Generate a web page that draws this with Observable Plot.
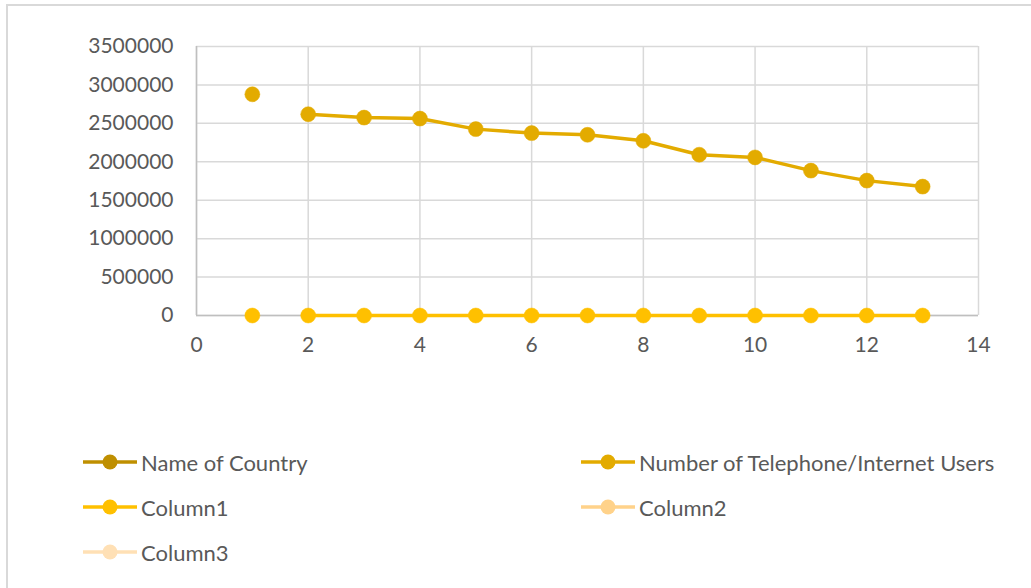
<!DOCTYPE html>
<html>
<head>
<meta charset="utf-8">
<script src="https://cdn.jsdelivr.net/npm/d3@7"></script>
<script src="https://cdn.jsdelivr.net/npm/@observablehq/plot@0.6"></script>
<style>
  html, body { margin: 0; padding: 0; background: #fff; width: 1031px; height: 588px; overflow: hidden; }
  #frame { position: absolute; left: 6px; top: 4px; width: 1100px; height: 700px;
           border-top: 2px solid #d9d9d9; border-left: 2px solid #d9d9d9; }
  #chart { position: absolute; left: 0; top: 0; }
  #legend { position: absolute; left: 0; top: 440px; width: 1031px; font-family: Lato, "Open Sans", sans-serif;
            font-size: 22px; color: #595959; }
  .item { position: absolute; display: flex; align-items: center; height: 30px; white-space: nowrap; }
  .item svg { margin-right: 3px; }
</style>
</head>
<body>
<div id="frame"></div>
<div id="chart"></div>
<div id="legend"></div>
<script>
// ---- data ----
const xValues = [1, 2, 3, 4, 5, 6, 7, 8, 9, 10, 11, 12, 13];
const users = [2878000, 2619000, 2575000, 2562000, 2425000, 2373000, 2351000, 2273000, 2092000, 2057000, 1885000, 1755000, 1677000];
const column1 = [0, 0, 0, 0, 0, 0, 0, 0, 0, 0, 0, 0, 0];
const yTicks = [0, 500000, 1000000, 1500000, 2000000, 2500000, 3000000, 3500000];
const xTicks = [0, 2, 4, 6, 8, 10, 12, 14];
const seriesNames = ["Name of Country", "Number of Telephone/Internet Users", "Column1", "Column2", "Column3"];
const seriesColors = ["#bf8f00", "#e3ab00", "#ffc000", "#ffd28a", "#ffe0b5"];
const firstConnectedX = 2; // the first point is not joined to the rest in the source

const usersData = xValues.map((x, i) => ({x, y: users[i]}));
const col1Data = xValues.map((x, i) => ({x, y: column1[i]}));

const font = 'Lato, "Open Sans", sans-serif';

const chart = Plot.plot({
  width: 1031,
  height: 380,
  marginLeft: 196,
  marginRight: 53,
  marginTop: 46,
  marginBottom: 65,
  style: {fontFamily: font, fontSize: "21px", color: "#595959", background: "transparent", overflow: "visible"},
  x: {domain: [0, 14], ticks: xTicks, tickSize: 0, tickPadding: 22, label: null},
  y: {domain: [0, 3500000], ticks: yTicks, tickSize: 0, tickPadding: 23, label: null, tickFormat: d => String(d)},
  marks: [
    Plot.gridY(yTicks, {stroke: "#d9d9d9", strokeOpacity: 1, strokeWidth: 1.5}),
    Plot.gridX(xTicks, {stroke: "#d9d9d9", strokeOpacity: 1, strokeWidth: 1.5}),
    Plot.ruleX([0], {stroke: "#bfbfbf", strokeWidth: 1.5}),
    Plot.ruleY([0], {stroke: "#bfbfbf", strokeWidth: 1.5}),
    Plot.axisX({ticks: xTicks, tickSize: 0, tickPadding: 22, fill: "#595959"}),
    Plot.axisY({ticks: yTicks, tickSize: 0, tickPadding: 23, fill: "#595959", tickFormat: d => String(d)}),
    Plot.line(usersData.filter(d => d.x >= firstConnectedX), {x: "x", y: "y", stroke: seriesColors[1], strokeWidth: 3.5}),
    Plot.dot(usersData, {x: "x", y: "y", r: 7.5, fill: seriesColors[1], stroke: seriesColors[1], strokeWidth: 0.5}),
    Plot.line(col1Data.filter(d => d.x >= firstConnectedX), {x: "x", y: "y", stroke: seriesColors[2], strokeWidth: 3.5}),
    Plot.dot(col1Data, {x: "x", y: "y", r: 7.5, fill: seriesColors[2], stroke: seriesColors[2], strokeWidth: 0.5})
  ]
});
document.getElementById("chart").appendChild(chart);

// ---- legend ----
const legend = document.getElementById("legend");
const positions = [[82, 7], [580, 7], [82, 52], [580, 52], [82, 97]];
seriesNames.forEach((name, i) => {
  const div = document.createElement("div");
  div.className = "item";
  div.style.left = positions[i][0] + "px";
  div.style.top = positions[i][1] + "px";
  const c = seriesColors[i];
  div.innerHTML = `<svg width="56" height="20"><line x1="1" y1="10" x2="55" y2="10" stroke="${c}" stroke-width="3.5"/><circle cx="28" cy="10" r="7.5" fill="${c}"/></svg><span>${name}</span>`;
  legend.appendChild(div);
});
</script>
</body>
</html>
